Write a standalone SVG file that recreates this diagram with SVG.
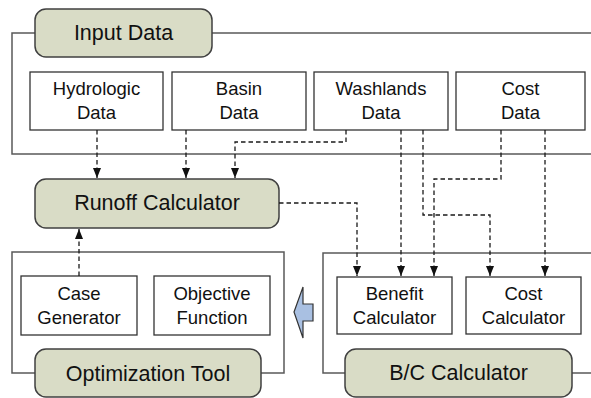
<svg xmlns="http://www.w3.org/2000/svg" width="591" height="398" viewBox="0 0 591 398">
<style>
.frame{fill:none;stroke:#595959;stroke-width:1.5}
.pill{fill:#d9dcc6;stroke:#404040;stroke-width:1.5}
.box{fill:#fff;stroke:#333;stroke-width:1.3}
.big{font-family:"Liberation Sans",Arial,sans-serif;font-size:21.5px;fill:#111;text-anchor:middle}
.sm{font-family:"Liberation Sans",Arial,sans-serif;font-size:18.5px;fill:#111;text-anchor:middle}
.dash{fill:none;stroke:#1a1a1a;stroke-width:1.3;stroke-dasharray:4.5 3}
</style>
<defs>
<marker id="ah" viewBox="0 0 10 8" refX="10" refY="4" markerWidth="10" markerHeight="8" markerUnits="userSpaceOnUse" orient="auto">
<path d="M0,0 L10,4 L0,8 Z" fill="#111"/>
</marker>
</defs>
<rect width="591" height="398" fill="#fff"/>
<g id="frames">
<path class="frame" d="M35,33 H12 V154 H592 M212,33 H592"/>
<path class="frame" d="M35,373 H12 V252 H284 V373 H261"/>
<path class="frame" d="M345,373 H323 V253 H592 M572,373 H592"/>
</g>
<g id="input-data">
<rect class="pill" x="35" y="9" width="177" height="48" rx="11"/>
<text class="big" x="123.5" y="40">Input Data</text>
</g>
<g id="hydrologic-data">
<rect class="box" x="30" y="72" width="133" height="58"/>
<text class="sm" x="96.5" y="95">Hydrologic</text>
<text class="sm" x="96.5" y="119">Data</text>
</g>
<g id="basin-data">
<rect class="box" x="172" y="72" width="134" height="58"/>
<text class="sm" x="239" y="95">Basin</text>
<text class="sm" x="239" y="119">Data</text>
</g>
<g id="washlands-data">
<rect class="box" x="314" y="72" width="134" height="58"/>
<text class="sm" x="381" y="95">Washlands</text>
<text class="sm" x="381" y="119">Data</text>
</g>
<g id="cost-data">
<rect class="box" x="456" y="72" width="129" height="58"/>
<text class="sm" x="520.5" y="95">Cost</text>
<text class="sm" x="520.5" y="119">Data</text>
</g>
<g id="runoff-calculator">
<rect class="pill" x="35" y="179" width="244" height="49" rx="11"/>
<text class="big" x="157" y="210">Runoff Calculator</text>
</g>
<g id="case-generator">
<rect class="box" x="21" y="276" width="116" height="59"/>
<text class="sm" x="79" y="300">Case</text>
<text class="sm" x="79" y="324">Generator</text>
</g>
<g id="objective-function">
<rect class="box" x="154" y="276" width="116" height="59"/>
<text class="sm" x="212" y="300">Objective</text>
<text class="sm" x="212" y="324">Function</text>
</g>
<g id="optimization-tool">
<rect class="pill" x="35" y="349" width="226" height="48" rx="11"/>
<text class="big" x="148" y="381">Optimization Tool</text>
</g>
<g id="benefit-calculator">
<rect class="box" x="337" y="277" width="115" height="57"/>
<text class="sm" x="394.5" y="300">Benefit</text>
<text class="sm" x="394.5" y="324">Calculator</text>
</g>
<g id="cost-calculator">
<rect class="box" x="466" y="277" width="115" height="57"/>
<text class="sm" x="523.5" y="300">Cost</text>
<text class="sm" x="523.5" y="324">Calculator</text>
</g>
<g id="bc-calculator">
<rect class="pill" x="345" y="349" width="227" height="48" rx="11"/>
<text class="big" x="458.5" y="380">B/C Calculator</text>
</g>
<g id="connectors">
<path class="dash" d="M97,130 V178" marker-end="url(#ah)"/>
<path class="dash" d="M186,130 V178" marker-end="url(#ah)"/>
<path class="dash" d="M346,130 V142 H235 V178" marker-end="url(#ah)"/>
<path class="dash" d="M79,276 V229" marker-end="url(#ah)"/>
<path class="dash" d="M279,203 H357 V276" marker-end="url(#ah)"/>
<path class="dash" d="M401,130 V276" marker-end="url(#ah)"/>
<path class="dash" d="M423,130 V215 H490 V276" marker-end="url(#ah)"/>
<path class="dash" d="M501,130 V179 H434 V276" marker-end="url(#ah)"/>
<path class="dash" d="M545,130 V276" marker-end="url(#ah)"/>
<path d="M294,312 L303,287 V304 H313 V321 H303 V338 Z" fill="#a9c0e2" stroke="#333" stroke-width="1.2"/>
</g>
</svg>
